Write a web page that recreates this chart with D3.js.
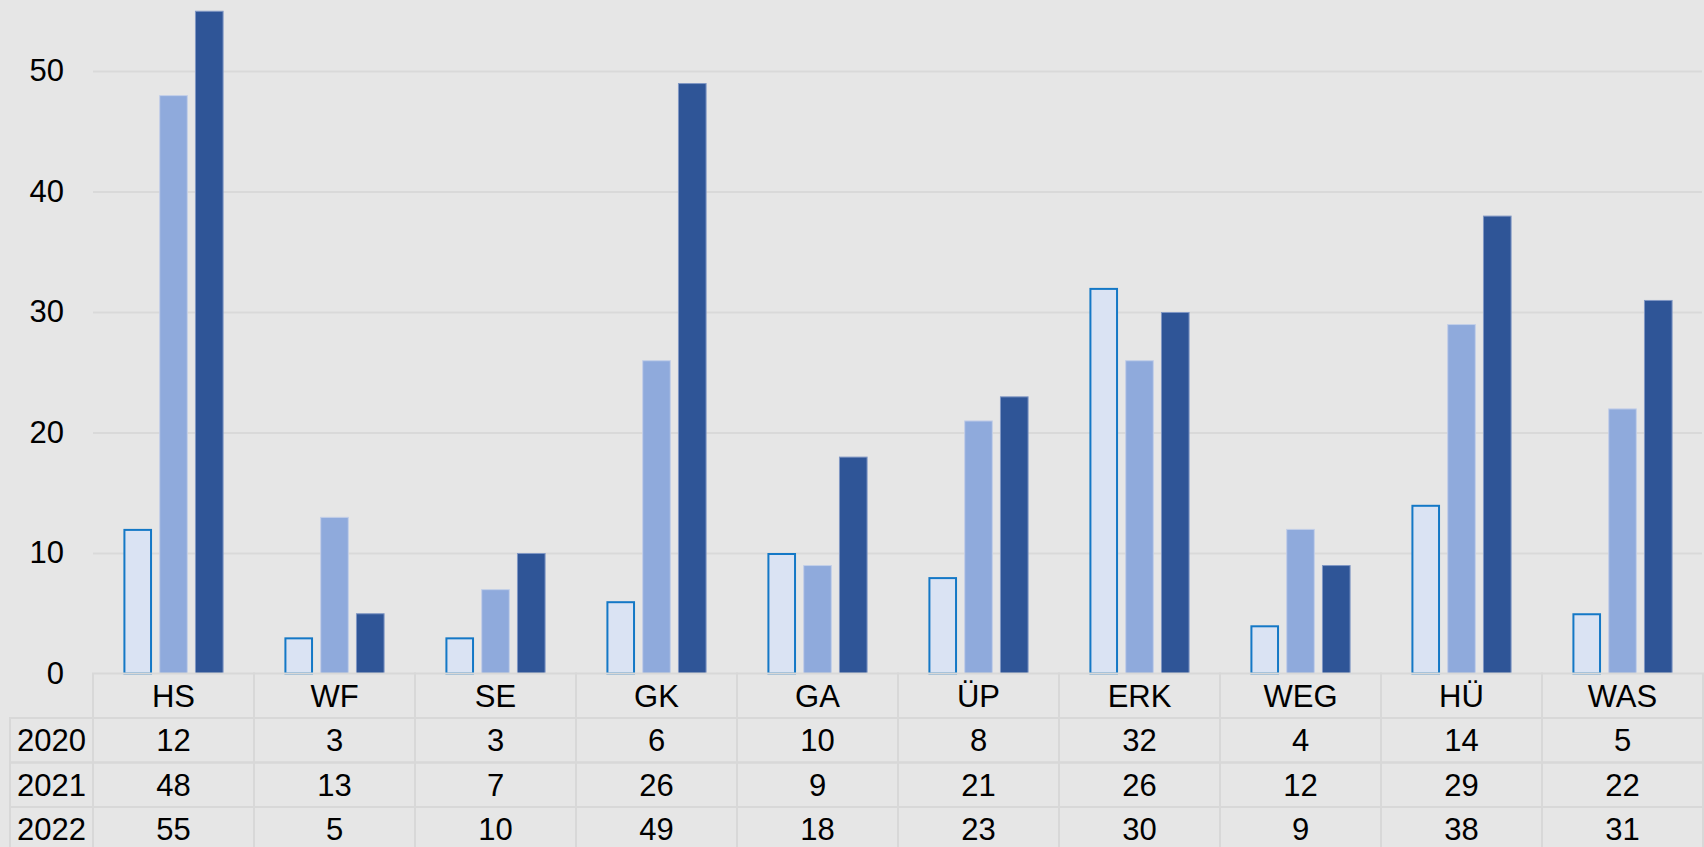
<!DOCTYPE html>
<html>
<head>
<meta charset="utf-8">
<script src="https://cdn.jsdelivr.net/npm/d3@7"></script>
<style>
    body { margin: 0; background: #e6e6e6; }
    svg { display: block; font-family: Arial, "Liberation Sans", sans-serif; }
</style>
</head>
<body>
<div id="chart"></div>
<script>
const categorias = ["HS", "WF", "SE", "GK", "GA", "ÜP", "ERK", "WEG", "HÜ", "WAS"];
const anios = ["2020", "2021", "2022"];
const v2020 = [12, 3, 3, 6, 10, 8, 32, 4, 14, 5];
const v2021 = [48, 13, 7, 26, 9, 21, 26, 12, 29, 22];
const v2022 = [55, 5, 10, 49, 18, 23, 30, 9, 38, 31];
const yTicks = [0, 10, 20, 30, 40, 50];

const series = [v2020, v2021, v2022];
const relleno = ["#dae3f3", "#8faadc", "#2f5597"];
const borde = ["#1478c6", "#c3cfe8", "#8097c4"];

const width = 1704, height = 847;
const left = 93, right = 1703;
const y0 = 673.5, y50 = 71;
const filaAlto = 44.5;
const letra = 31;

const svg = d3.select("#chart").append("svg")
    .attr("width", width)
    .attr("height", height);

svg.append("rect")
    .attr("width", width).attr("height", height)
    .attr("fill", "#e6e6e6");

// escalas
const x0 = d3.scaleBand(categorias, [left, right]);
const x1 = d3.scaleBand(anios, [0, x0.bandwidth()])
    .paddingInner(0.2)
    .paddingOuter(0.85);
const y = d3.scaleLinear([0, 50], [y0, y50]);

// lineas de rejilla
svg.append("g")
    .attr("transform", `translate(${left},0)`)
    .call(d3.axisLeft(y).tickValues(yTicks.slice(1)).tickSize(-(right - left - 1)).tickFormat(""))
    .call(g => g.select(".domain").remove())
    .call(g => g.selectAll("line").attr("stroke", "#d9d9d9").attr("stroke-width", 2));

// etiquetas del eje y
svg.append("g")
    .attr("transform", `translate(${left},0)`)
    .call(d3.axisLeft(y).tickValues(yTicks).tickSize(0).tickPadding(29))
    .call(g => g.select(".domain").remove())
    .call(g => g.selectAll("text")
        .attr("font-size", letra)
        .attr("font-family", "Arial, 'Liberation Sans', sans-serif")
        .attr("fill", "#000"));

// barras
const grupos = svg.append("g").selectAll("g")
    .data(categorias)
    .join("g")
    .attr("transform", d => `translate(${x0(d)},0)`);

grupos.selectAll("rect")
    .data((c, i) => anios.map((a, s) => ({ anio: a, s: s, v: series[s][i] })))
    .join("rect")
    .attr("x", d => x1(d.anio) + (d.s === 0 ? 1 : 0.5))
    .attr("y", d => y(d.v) + (d.s === 0 ? 1 : 0.5))
    .attr("width", d => x1.bandwidth() - (d.s === 0 ? 2 : 1))
    .attr("height", d => y0 - y(d.v) - (d.s === 0 ? 1 : 0.5))
    .attr("fill", d => relleno[d.s])
    .attr("stroke", d => borde[d.s])
    .attr("stroke-width", d => d.s === 0 ? 2 : 1);

// tabla de datos
const tabla = svg.append("g");
const lineaTabla = "#d8d8d8";

// fila de categorias
tabla.selectAll("rect.cab")
    .data(categorias)
    .join("rect")
    .attr("class", "cab")
    .attr("x", d => x0(d))
    .attr("y", y0)
    .attr("width", x0.bandwidth())
    .attr("height", filaAlto)
    .attr("fill", "none")
    .attr("stroke", lineaTabla)
    .attr("stroke-width", 2);

tabla.selectAll("text.cab")
    .data(categorias)
    .join("text")
    .attr("class", "cab")
    .attr("x", d => x0(d) + x0.bandwidth() / 2)
    .attr("y", y0 + filaAlto / 2)
    .attr("dy", "0.35em")
    .attr("text-anchor", "middle")
    .attr("font-size", letra)
    .text(d => d);

// filas por anio
anios.forEach((a, s) => {
    const top = y0 + filaAlto * (s + 1);
    const fila = tabla.append("g");
    fila.append("rect")
        .attr("x", 10).attr("y", top)
        .attr("width", left - 10).attr("height", filaAlto)
        .attr("fill", "none").attr("stroke", lineaTabla).attr("stroke-width", 2);
    fila.append("text")
        .attr("x", (10 + left) / 2).attr("y", top + filaAlto / 2)
        .attr("dy", "0.35em").attr("text-anchor", "middle")
        .attr("font-size", letra)
        .text(a);
    fila.selectAll("rect.celda")
        .data(categorias)
        .join("rect")
        .attr("class", "celda")
        .attr("x", d => x0(d)).attr("y", top)
        .attr("width", x0.bandwidth()).attr("height", filaAlto)
        .attr("fill", "none").attr("stroke", lineaTabla).attr("stroke-width", 2);
    fila.selectAll("text.celda")
        .data(series[s])
        .join("text")
        .attr("class", "celda")
        .attr("x", (d, i) => x0(categorias[i]) + x0.bandwidth() / 2)
        .attr("y", top + filaAlto / 2)
        .attr("dy", "0.35em").attr("text-anchor", "middle")
        .attr("font-size", letra)
        .text(d => d);
});
</script>
</body>
</html>
